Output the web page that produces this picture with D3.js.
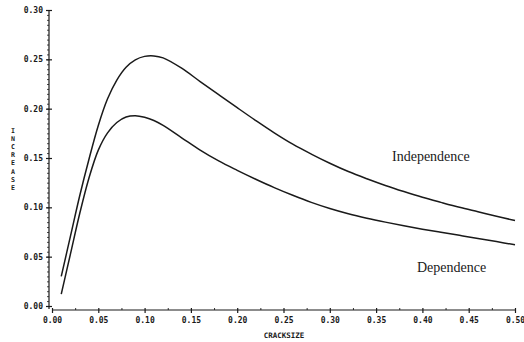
<!DOCTYPE html>
<html><head><meta charset="utf-8">
<script src="https://cdn.jsdelivr.net/npm/d3@7"></script>
<style>body{margin:0;background:#fff}svg{display:block}</style>
</head><body>
<script>
const crackSize = [0.01,0.02,0.03,0.04,0.05,0.06,0.07,0.08,0.09,0.10,0.11,0.12,0.14,0.16,0.18,0.20,0.22,0.24,0.26,0.28,0.30,0.32,0.34,0.36,0.38,0.40,0.42,0.44,0.46,0.48,0.50];
const independence = [0.030,0.071,0.112,0.149,0.183,0.210,0.229,0.242,0.2495,0.253,0.2535,0.2515,0.241,0.2275,0.2142,0.201,0.188,0.1755,0.164,0.154,0.1447,0.1363,0.129,0.1222,0.116,0.1102,0.105,0.100,0.0955,0.091,0.0866];
const dependence = [0.012,0.053,0.094,0.130,0.158,0.1755,0.186,0.1915,0.1928,0.1912,0.188,0.183,0.1705,0.158,0.147,0.1375,0.1285,0.120,0.1122,0.105,0.0988,0.0935,0.089,0.085,0.0813,0.0779,0.0747,0.0716,0.0685,0.0653,0.062];
const xTicks = [0,0.05,0.10,0.15,0.20,0.25,0.30,0.35,0.40,0.45,0.50];
const yTicks = [0,0.05,0.10,0.15,0.20,0.25,0.30];
const seriesNames = ["Independence","Dependence"];

const W = 524, H = 342;
const svg = d3.select("body").append("svg").attr("width", W).attr("height", H);
const x = d3.scaleLinear().domain([0,0.5]).range([52,515]);
const y = d3.scaleLinear().domain([0,0.30]).range([306,10]);
const axisX = 49, axisY = 310;
const ink = "#1a1a1a";
const monoFont = "'DejaVu Sans Mono', monospace";

// Y axis
const gy = svg.append("g").attr("transform", `translate(${axisX},0)`);
gy.append("line").attr("x1",0).attr("x2",0).attr("y1",y(0.30)).attr("y2",axisY-1).attr("stroke",ink).attr("stroke-width",1.2);
const minorY = d3.range(0, 0.3001, 0.005);
gy.append("g").call(d3.axisLeft(y).tickValues(minorY).tickSize(2).tickFormat(""))
  .call(a => a.select(".domain").remove()).selectAll("line").attr("stroke",ink).attr("stroke-width",0.8);
const yAx = gy.append("g").call(d3.axisLeft(y).tickValues(yTicks).tickSize(3).tickPadding(3).tickFormat(d3.format(".2f")));
yAx.select(".domain").remove();
yAx.selectAll(".tick line").attr("x2",3).attr("x1",-3).attr("stroke",ink).attr("stroke-width",1.2);
yAx.selectAll("text").attr("font-family",monoFont).attr("font-weight","bold").attr("font-size",8).attr("fill",ink).attr("x",-6);

// X axis
const gx = svg.append("g").attr("transform", `translate(0,${axisY})`);
gx.append("line").attr("x1",x(0)).attr("x2",x(0.5)+1).attr("y1",0).attr("y2",0).attr("stroke",ink).attr("stroke-width",1.2);
const minorX = d3.range(0.025, 0.5, 0.05);
gx.append("g").call(d3.axisTop(x).tickValues(minorX).tickSize(2).tickFormat(""))
  .call(a => a.select(".domain").remove()).selectAll("line").attr("stroke",ink).attr("stroke-width",0.9);
const xAx = gx.append("g").call(d3.axisBottom(x).tickValues(xTicks).tickSize(3).tickPadding(4).tickFormat(d3.format(".2f")));
xAx.select(".domain").remove();
xAx.selectAll(".tick line").attr("y1",-2).attr("stroke",ink).attr("stroke-width",1.2);
xAx.selectAll("text").attr("font-family",monoFont).attr("font-weight","bold").attr("font-size",8).attr("fill",ink);

// Axis titles
svg.append("text").attr("x",284).attr("y",338).attr("text-anchor","middle")
  .attr("font-family",monoFont).attr("font-weight","bold").attr("font-size",7.5).attr("fill",ink).text("CRACKSIZE");
const yt = svg.append("text").attr("text-anchor","middle")
  .attr("font-family",monoFont).attr("font-weight","bold").attr("font-size",6.6).attr("fill",ink);
"INCREASE".split("").forEach((c,i) => yt.append("tspan").attr("x",13).attr("y",133 + i*8.1).text(c));

// Curves
const line = d3.line().x((d,i)=>x(crackSize[i])).y(d=>y(d)).curve(d3.curveCatmullRom.alpha(0.5));
[independence, dependence].forEach(s => {
  svg.append("path").datum(s).attr("d", line).attr("fill","none").attr("stroke",ink).attr("stroke-width",1.5);
});

// Labels
svg.append("text").attr("x",392).attr("y",161).attr("font-family","'Liberation Serif', serif").attr("font-size",14).attr("fill",ink).text(seriesNames[0]);
svg.append("text").attr("x",417).attr("y",272).attr("font-family","'Liberation Serif', serif").attr("font-size",14).attr("fill",ink).text(seriesNames[1]);
</script>
</body></html>
